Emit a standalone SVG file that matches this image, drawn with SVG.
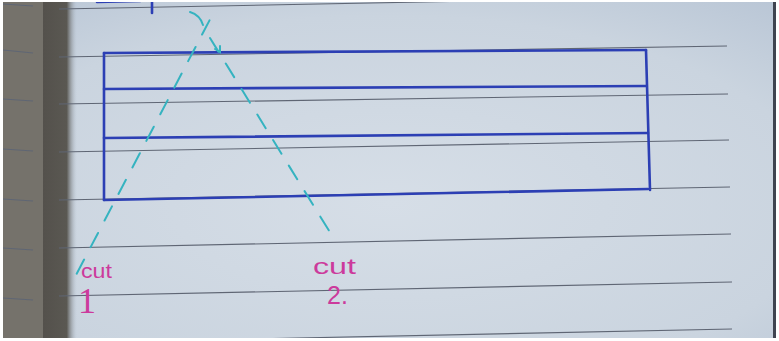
<svg xmlns="http://www.w3.org/2000/svg" width="779" height="341" viewBox="0 0 779 341">
  <defs>
    <radialGradient id="paper" cx="0.5" cy="0.6" r="0.8">
      <stop offset="0" stop-color="#d6dee7"/>
      <stop offset="0.7" stop-color="#cad4df"/>
      <stop offset="1" stop-color="#b8c5d5"/>
    </radialGradient>
    <linearGradient id="gutter" x1="0" y1="0" x2="1" y2="0">
      <stop offset="0" stop-color="#54514c"/>
      <stop offset="0.7" stop-color="#5a5852"/>
      <stop offset="1" stop-color="#b3bfcd" stop-opacity="0"/>
    </linearGradient>
    <clipPath id="frame"><rect x="3" y="2" width="773" height="336"/></clipPath>
  </defs>
  <style>
    .rule{stroke:#5f6674;stroke-width:1.1;fill:none}
    .pen{stroke:#2c3fb4;stroke-width:2.6;fill:none;stroke-linecap:round}
    .cut{stroke:#35b3c0;stroke-width:2;fill:none;stroke-linecap:round;stroke-dasharray:16 14}
    .lbl{fill:#cc3a9c;font-family:"Liberation Sans","DejaVu Sans",sans-serif}
  </style>
  <rect x="0" y="0" width="779" height="341" fill="#ffffff"/>
  <g id="background" clip-path="url(#frame)">
    <rect x="3" y="2" width="773" height="336" fill="url(#paper)"/>
    <rect x="3" y="2" width="41" height="336" fill="#75726b"/>
    <rect x="43" y="2" width="34" height="336" fill="url(#gutter)"/>
    <rect x="773" y="2" width="3" height="336" fill="#3e4450"/>
    <g id="ruled-lines">
      <line class="rule" x1="3" y1="4" x2="33" y2="6"/>
      <line class="rule" x1="3" y1="50" x2="33" y2="53"/>
      <line class="rule" x1="3" y1="99" x2="33" y2="101"/>
      <line class="rule" x1="3" y1="149" x2="33" y2="151"/>
      <line class="rule" x1="3" y1="199" x2="33" y2="201"/>
      <line class="rule" x1="3" y1="248" x2="33" y2="250"/>
      <line class="rule" x1="3" y1="298" x2="33" y2="300"/>
      <line class="rule" x1="59" y1="9" x2="732" y2="-4"/>
      <line class="rule" x1="59" y1="57" x2="727" y2="46"/>
      <line class="rule" x1="59" y1="104" x2="728" y2="94"/>
      <line class="rule" x1="59" y1="152" x2="729" y2="140"/>
      <line class="rule" x1="59" y1="200" x2="730" y2="187"/>
      <line class="rule" x1="59" y1="248" x2="731" y2="234"/>
      <line class="rule" x1="59" y1="296" x2="732" y2="282"/>
      <line class="rule" x1="59" y1="343" x2="732" y2="329"/>
    </g>
  </g>
  <g id="top-scribble" clip-path="url(#frame)">
    <path class="pen" d="M97 2 L140 1"/>
    <path class="pen" d="M152 0 L152 13"/>
  </g>
  <g id="board">
    <path class="pen" d="M104 53 L646 50"/>
    <path class="pen" d="M104 53 L104 200"/>
    <path class="pen" d="M646 50 L650 190"/>
    <path class="pen" d="M104 89 L646 86"/>
    <path class="pen" d="M104 138 L648 133"/>
    <path class="pen" d="M104 200 L648 189"/>
  </g>
  <g id="connectors">
    <path id="cut-1-line" class="cut" stroke-dashoffset="16" d="M216 8 L76 275"/>
    <path id="cut-2-hook" d="M190 12 Q200 15 203 25" stroke="#35b3c0" stroke-width="2" fill="none" stroke-linecap="round"/>
    <path id="cut-2-line" class="cut" d="M210 38 L336 242"/>
    <path d="M215 49 L220 52 L220 46" stroke="#35b3c0" stroke-width="2" fill="none" stroke-linecap="round"/>
  </g>
  <g id="label-cut-1">
    <text class="lbl" x="81" y="278" font-size="21" textLength="31" lengthAdjust="spacingAndGlyphs">cut</text>
    <text class="lbl" x="78" y="313" style="font-family:'Liberation Serif',serif;font-size:36px">1</text>
  </g>
  <g id="label-cut-2">
    <text class="lbl" x="313" y="274" font-size="22" textLength="43" lengthAdjust="spacingAndGlyphs">cut</text>
    <text class="lbl" x="327" y="304" font-size="25">2.</text>
  </g>
</svg>
